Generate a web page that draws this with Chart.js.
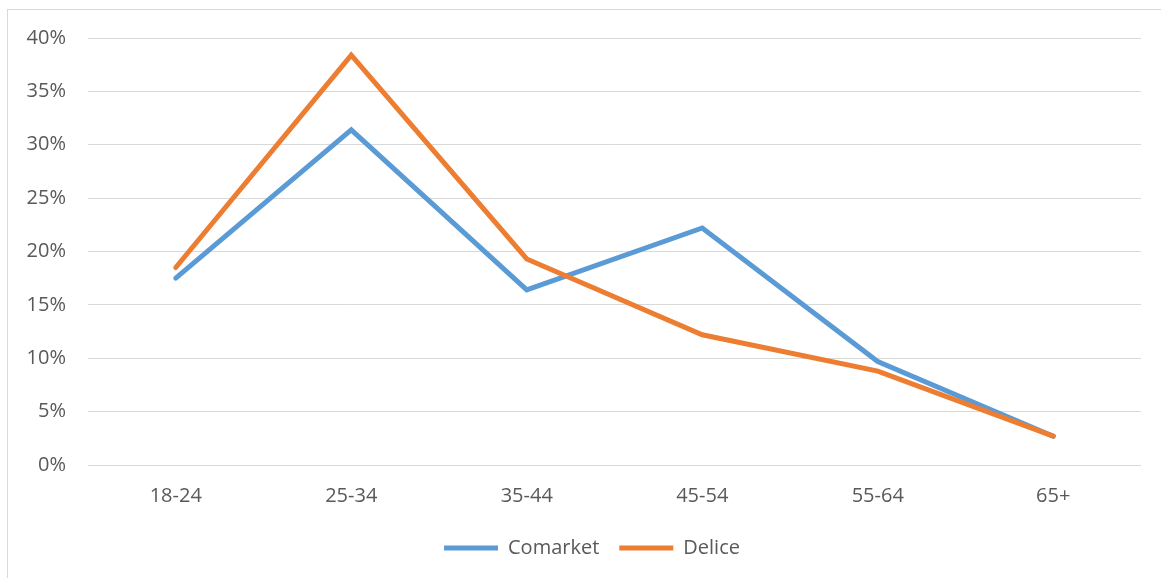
<!DOCTYPE html>
<html>
<head>
<meta charset="utf-8">
<script src="https://cdn.jsdelivr.net/npm/chart.js@4.4.1/dist/chart.umd.min.js"></script>
<style>
  html, body { margin: 0; padding: 0; background: #ffffff; }
  #wrap { position: relative; width: 1161px; height: 578px; overflow: hidden; }
  #frame { position: absolute; left: 7px; top: 9px; width: 1170px; height: 600px; border: 1px solid #d9d9d9; box-sizing: border-box; }
  #c { position: absolute; left: 0; top: 0; }
</style>
</head>
<body>
<div id="wrap">
  <div id="frame"></div>
  <canvas id="c" width="1161" height="578"></canvas>
</div>
<script>
// Age groups on the x axis
const categories = ['18-24', '25-34', '35-44', '45-54', '55-64', '65+'];
// Share of each audience per age group, in percent
const comarket = [17.5, 31.4, 16.4, 22.2, 9.7, 2.7];
const delice = [18.5, 38.4, 19.3, 12.2, 8.8, 2.7];
// Value axis range and step
const yMin = 0;
const yMax = 40;
const yStep = 5;

const textColor = '#595959';
const gridColor = '#d9d9d9';
const fontFamily = "'Open Sans', 'Liberation Sans', sans-serif";

// Centre the legend under the plot area rather than the whole canvas
const legendShift = {
  id: 'legendShift',
  afterLayout(chart) {
    const lg = chart.legend;
    if (!lg) return;
    const dx = 21.5;
    lg.left += dx;
    lg.right += dx;
  }
};

new Chart(document.getElementById('c'), {
  type: 'line',
  data: {
    labels: categories,
    datasets: [
      {
        label: 'Comarket',
        data: comarket,
        borderColor: '#5b9bd5',
        backgroundColor: '#5b9bd5',
        borderWidth: 5,
        borderCapStyle: 'round',
        borderJoinStyle: 'miter',
        pointRadius: 0,
        tension: 0,
        order: 1
      },
      {
        label: 'Delice',
        data: delice,
        borderColor: '#ed7d31',
        backgroundColor: '#ed7d31',
        borderWidth: 5,
        borderCapStyle: 'round',
        borderJoinStyle: 'miter',
        pointRadius: 0,
        tension: 0,
        order: 0
      }
    ]
  },
  plugins: [legendShift],
  options: {
    responsive: false,
    animation: false,
    devicePixelRatio: 1,
    layout: { padding: { left: 0, right: 20, top: 38, bottom: 10 } },
    plugins: {
      tooltip: { enabled: false },
      legend: {
        position: 'bottom',
        labels: {
          usePointStyle: true,
          pointStyle: 'line',
          pointStyleWidth: 54,
          padding: 20,
          color: textColor,
          font: { family: fontFamily, size: 20 },
          sort: (a, b) => a.datasetIndex - b.datasetIndex
        }
      }
    },
    scales: {
      x: {
        offset: true,
        grid: { display: false, drawTicks: false },
        border: { display: false },
        ticks: { color: textColor, padding: 19, font: { family: fontFamily, size: 20 }, maxRotation: 0 },
        afterFit: (s) => { s.height = 53; }
      },
      y: {
        min: yMin,
        max: yMax,
        grid: { color: gridColor, lineWidth: 1, drawTicks: false },
        border: { display: false },
        ticks: {
          stepSize: yStep,
          color: textColor,
          padding: 22,
          font: { family: fontFamily, size: 20 },
          callback: (v) => v + '%'
        },
        afterFit: (s) => { s.width = 88; }
      }
    }
  }
});
</script>
</body>
</html>
